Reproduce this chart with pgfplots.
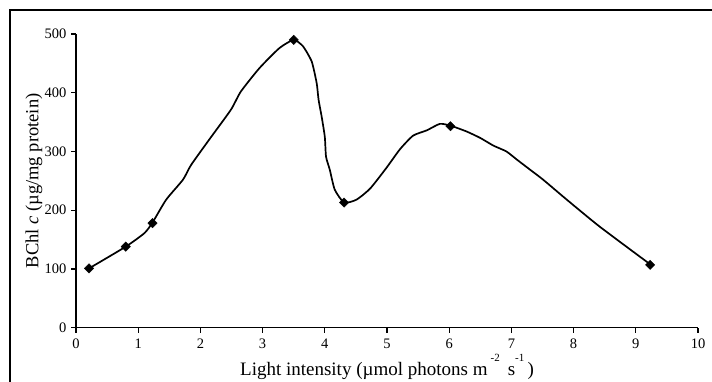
\documentclass[border=0pt]{standalone}
\usepackage{fontspec}
\setmainfont{Liberation Serif}
\usepackage{pgfplots}
\pgfplotsset{compat=1.18}
\begin{document}
\begin{tikzpicture}[x=1pt,y=1pt]
\path[use as bounding box,clip] (0,0) rectangle (712,382);
\draw[line width=1.8pt] (10,-20) rectangle (730,372);
\begin{axis}[
  at={(76pt,54.3pt)}, anchor=south west,
  scale only axis, width=622pt, height=293.7pt,
  xmin=0, xmax=10, ymin=0, ymax=500,
  axis x line*=bottom, axis y line*=left,
  axis line style={line width=1.6pt},
  tick align=outside, major tick length=5pt,
  every tick/.style={line width=1.2pt, black},
  xtick={0,1,...,10}, ytick={0,100,...,500},
  tick label style={font=\fontsize{14.5}{17}\selectfont},
  xticklabel style={yshift=-3pt},
  yticklabel style={xshift=-1pt},
  /pgf/number format/assume math mode=true,
  xlabel={Light intensity (µmol photons m\,\raisebox{0.75em}{\fontsize{11}{12}\selectfont -2}\, s\raisebox{0.75em}{\fontsize{11}{12}\selectfont -1}\,)},
  ylabel={BChl \textit{c} (µg/mg protein)},
  xlabel style={at={(axis description cs:0.5,-0.1634)}, anchor=base, font=\fontsize{19}{23}\selectfont},
  ylabel style={at={(axis description cs:-0.0675,0.5)}, anchor=center, font=\fontsize{18.5}{22}\selectfont},
  clip=false,
]
\addplot[black, line width=1.7pt, smooth, tension=0.35, no marks] coordinates {
(0.21,101) (0.80,138) (1.10,161) (1.23,179) (1.45,218) (1.72,252) (1.85,277)
(2.14,320) (2.49,371) (2.65,402) (2.95,442) (3.27,476) (3.50,490) (3.65,479)
(3.79,453) (3.87,416) (3.90,388) (3.95,359) (4.00,325) (4.02,291) (4.08,269)
(4.16,235) (4.31,213) (4.51,218) (4.73,237) (4.99,272) (5.21,304) (5.42,327)
(5.64,336) (5.85,347) (6.02,344) (6.28,334) (6.50,323) (6.71,310) (6.92,300)
(7.09,286) (7.30,269) (7.51,252) (7.89,218) (8.42,172) (9.23,108)
};
\addplot[only marks, mark=square*, mark size=3.3pt, mark options={rotate=45}, black] coordinates {
(0.21,101) (0.80,138) (1.23,178) (3.50,490) (4.31,213) (6.02,343) (9.23,107)
};
\end{axis}
\end{tikzpicture}
\end{document}
